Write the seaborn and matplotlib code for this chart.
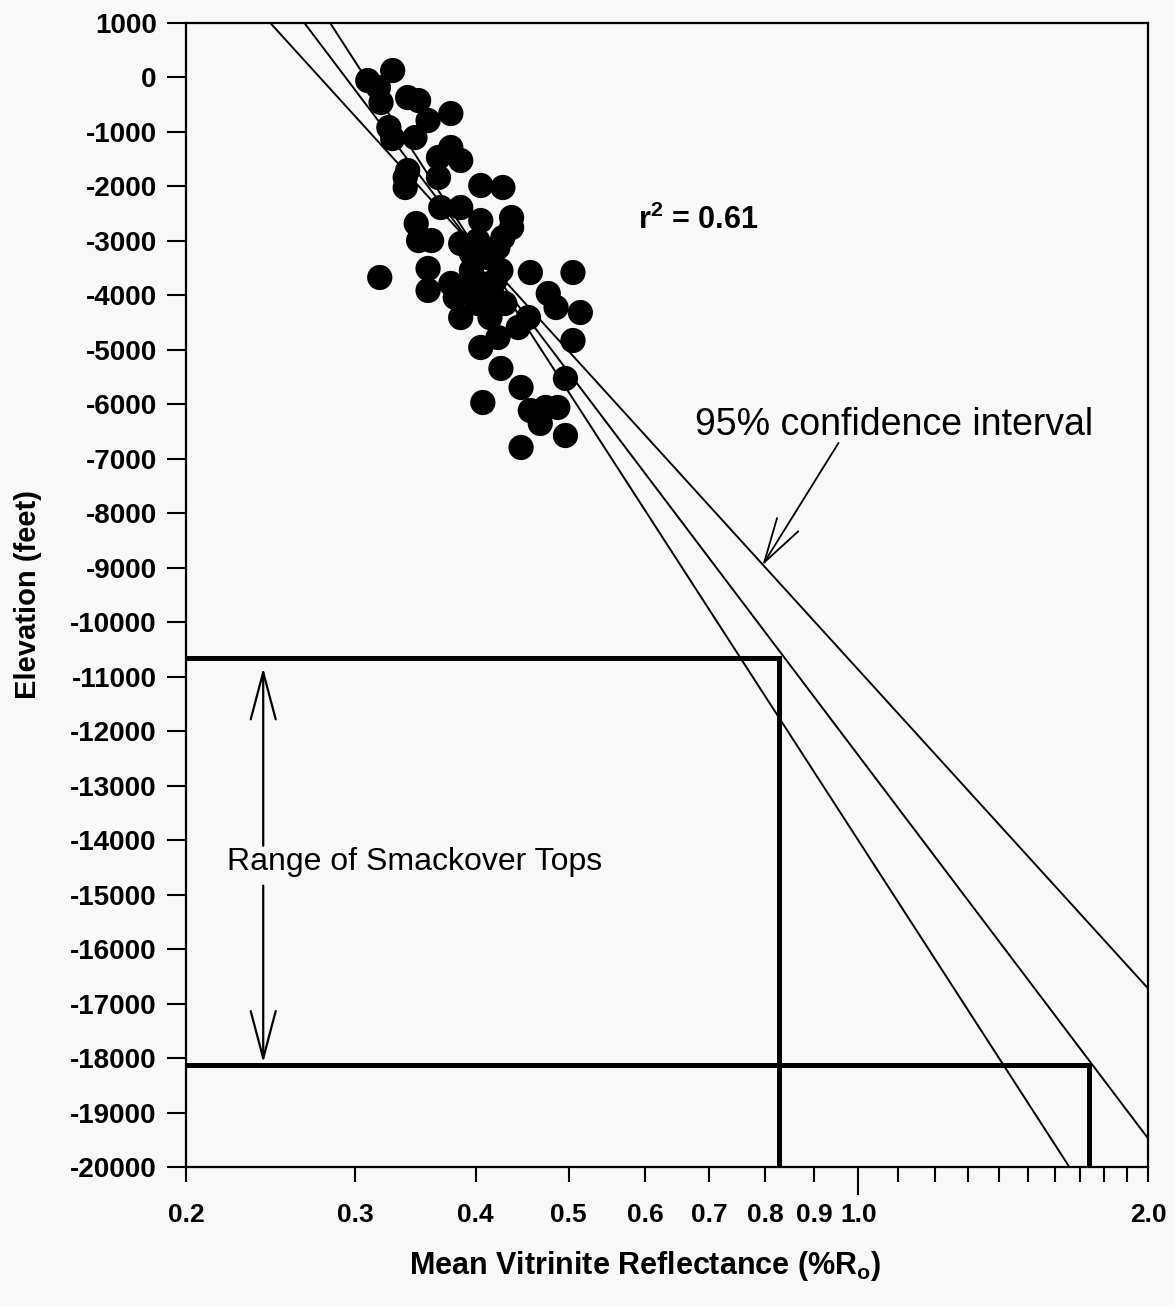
import numpy as np
import pandas as pd
import matplotlib
matplotlib.use("Agg")
import matplotlib.pyplot as plt
import seaborn as sns

# vitrinite reflectance samples (%Ro) and their elevations (feet)
ro = [0.328, 0.309, 0.317, 0.340, 0.349, 0.377, 0.357, 0.319, 0.328, 0.346,
      0.377, 0.386, 0.366, 0.340, 0.366, 0.338, 0.405, 0.427, 0.368, 0.386,
      0.405, 0.436, 0.436, 0.347, 0.349, 0.360, 0.386, 0.402, 0.422, 0.427,
      0.318, 0.357, 0.357, 0.377, 0.396, 0.405, 0.419, 0.425, 0.415, 0.386,
      0.414, 0.429, 0.456, 0.505, 0.476, 0.485, 0.514, 0.454, 0.443, 0.405,
      0.422, 0.505, 0.425, 0.446, 0.496, 0.407, 0.456, 0.473, 0.487, 0.467,
      0.496, 0.446, 0.396, 0.412, 0.390, 0.402, 0.381, 0.338, 0.325]
elev = [123, -61, -189, -373, -428, -666, -795, -464, -1125, -1107,
        -1290, -1528, -1473, -1712, -1840, -2024, -1987, -2024, -2391, -2391,
        -2630, -2575, -2758, -2685, -2997, -2997, -3052, -2997, -3125, -2942,
        -3675, -3510, -3914, -3785, -3547, -3785, -3730, -3547, -4042, -4410,
        -4410, -4153, -3584, -3584, -3969, -4226, -4318, -4410, -4593, -4960,
        -4777, -4832, -5345, -5694, -5529, -5970, -6116, -6061, -6061, -6354,
        -6575, -6795, -3235, -3309, -3914, -4153, -4042, -1840, -923]

# regression line and 95% confidence lines (end points)
fit_x, fit_y = [0.2654, 2.0], [1000, -19473]
ci_shallow_x, ci_shallow_y = [0.2446, 2.0], [1000, -16721]
ci_steep_x, ci_steep_y = [0.2823, 1.657], [1000, -20000]

# range of Smackover tops and matching reflectance
tops = [-10650, -18120]
tops_ro = [0.827, 1.735]

r2 = 0.61

xtick_vals = [0.2, 0.3, 0.4, 0.5, 0.6, 0.7, 0.8, 0.9, 1.0, 2.0]
xtick_labels = ["0.2", "0.3", "0.4", "0.5", "0.6", "0.7", "0.8", "0.9", "1.0", "2.0"]
xminor_vals = [1.1, 1.2, 1.3, 1.4, 1.5, 1.6, 1.7, 1.8, 1.9]
ytick_vals = list(range(-20000, 1001, 1000))

df = pd.DataFrame({"ro": ro, "elev": elev})

sns.set_style("white")
plt.rcParams["font.family"] = ["Liberation Sans", "DejaVu Sans"]
plt.rcParams["mathtext.fontset"] = "custom"
plt.rcParams["mathtext.rm"] = "Liberation Sans"
plt.rcParams["mathtext.bf"] = "Liberation Sans:bold"
for key in ["text.color", "axes.labelcolor", "xtick.color", "ytick.color"]:
    plt.rcParams[key] = "black"

bg = "#f8f8f8"
fig = plt.figure(figsize=(11.75, 13.07), dpi=100, facecolor=bg)
ax = fig.add_axes([0.1583, 0.1071, 0.8187, 0.8755], facecolor=bg)

ax.set_xscale("log")
ax.set_xlim(0.2, 2.0)
ax.set_ylim(-20000, 1000)

sns.scatterplot(data=df, x="ro", y="elev", ax=ax, color="black", s=330,
                edgecolor="none", zorder=3)

for lx, ly in [(fit_x, fit_y), (ci_shallow_x, ci_shallow_y), (ci_steep_x, ci_steep_y)]:
    ax.plot(lx, ly, color="black", lw=1.4, zorder=2)

# bracket lines
for top, r in zip(tops, tops_ro):
    ax.plot([0.2, r], [top, top], color="black", lw=3.6, solid_capstyle="projecting", zorder=2)
    ax.plot([r, r], [top, -20000], color="black", lw=3.6, solid_capstyle="projecting", zorder=2)

# annotations
ax.text(0.590, -2630, f"r$^\\mathbf{{2}}$ = {r2:.2f}", fontsize=22, fontweight="bold",
        va="center", ha="left")
ax.text(0.676, -6391, "95% confidence interval", fontsize=27, va="center", ha="left")
ax.annotate("", xy=(0.792, -9000), xytext=(0.957, -6667),
            arrowprops=dict(arrowstyle="->,head_length=1.6,head_width=0.45",
                            mutation_scale=20, color="black", lw=1.3))

ax.text(0.2208, -14410, "Range of Smackover Tops", fontsize=23, va="center", ha="left")
arr = dict(arrowstyle="->,head_length=1.7,head_width=0.45", mutation_scale=20,
           color="black", lw=1.6, shrinkA=0, shrinkB=0)
ax.annotate("", xy=(0.2406, -10838), xytext=(0.2406, -14104), arrowprops=arr)
ax.annotate("", xy=(0.2406, -18085), xytext=(0.2406, -14838), arrowprops=arr)

# axes styling
for sp in ax.spines.values():
    sp.set_linewidth(1.6)
    sp.set_color("black")

ax.set_yticks(ytick_vals)
ax.set_yticklabels([str(v) for v in ytick_vals])
ax.set_xticks(xtick_vals)
ax.set_xticklabels(xtick_labels)
ax.set_xticks(xminor_vals, minor=True)
ax.xaxis.set_minor_formatter(matplotlib.ticker.NullFormatter())

ax.tick_params(axis="y", which="major", direction="out", length=14, width=1.5,
               labelsize=20, pad=7, left=True)
ax.tick_params(axis="x", which="both", direction="out", length=11, width=1.5,
               labelsize=19, pad=15, bottom=True)
for t in ax.xaxis.get_major_ticks():
    if abs(t.get_loc() - 1.0) < 1e-9:
        t.tick1line.set_markersize(20)

for lab in ax.get_xticklabels() + ax.get_yticklabels():
    lab.set_fontweight("bold")

ax.set_xlabel("Mean Vitrinite Reflectance (%R$_\\mathbf{o}$)", fontsize=22, fontweight="bold")
ax.set_ylabel("Elevation (feet)", fontsize=21, fontweight="bold")
ax.xaxis.set_label_coords(0.477, -0.072)
ax.yaxis.set_label_coords(-0.15, 0.5)

fig.savefig("out.png", dpi=100, facecolor=bg)
